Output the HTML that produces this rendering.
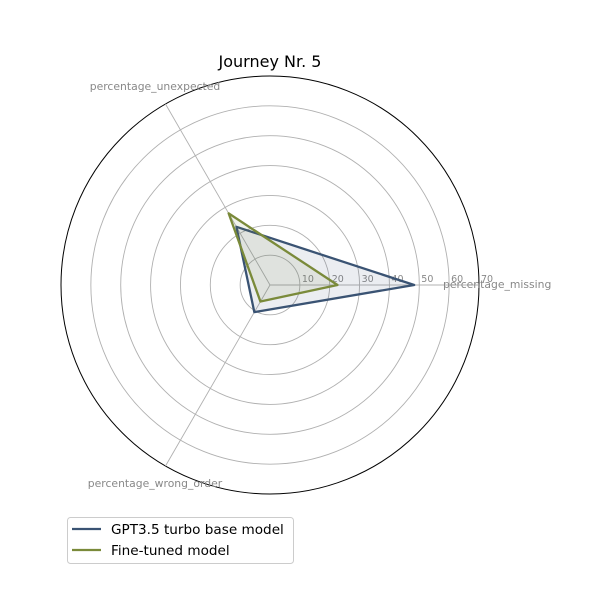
<!DOCTYPE html>
<html><head><meta charset="utf-8"><style>
body{margin:0;background:#fff;}
svg{display:block;font-family:"DejaVu Sans","Liberation Sans",sans-serif;}
</style></head><body>
<svg id="c" width="600" height="600">
<text x="270" y="67" text-anchor="middle" font-size="16">Journey Nr. 5</text>
<g id="grid"></g>
<g id="series"></g>
<g>
<rect x="67.5" y="517.5" width="226" height="46" rx="3" fill="#fff" stroke="#ccc"/>
<line x1="72" y1="529" x2="101" y2="529" stroke="#3a5373" stroke-width="2.2"/>
<text x="111" y="534" font-size="13.6">GPT3.5 turbo base model</text>
<line x1="72" y1="550" x2="101" y2="550" stroke="#7a8a3a" stroke-width="2.2"/>
<text x="111" y="555" font-size="13.6">Fine-tuned model</text>
</g>
</svg>
<script>
const categories=["percentage_missing","percentage_unexpected","percentage_wrong_order"];
const gptValues=[48.3,22.5,10.5];
const ftValues=[22.6,27.7,6.4];
const ringTicks=[10,20,30,40,50,60,70];
const rMax=70;
const cx=270,cy=285,R=209;
const NS="http://www.w3.org/2000/svg";
function rs(v){return v/rMax*R;}
function ang(i){return i*2*Math.PI/categories.length;}
function pt(i,v){return [cx+rs(v)*Math.cos(ang(i)),cy-rs(v)*Math.sin(ang(i))];}
function mk(tag,attrs,parent){const e=document.createElementNS(NS,tag);for(const k in attrs)e.setAttribute(k,attrs[k]);parent.appendChild(e);return e;}
const g=document.getElementById('grid');
ringTicks.forEach((t,k)=>{
  const c=mk('circle',{cx:cx,cy:cy,r:rs(t),fill:'none',stroke:(t===rMax?'#000':'#b0b0b0'),'stroke-width':(t===rMax?1:0.9)},g);
  
  
  const tx=mk('text',{x:cx+rs(t)+2,y:cy-3,'font-size':9.5,fill:'#888'},g);
  tx.textContent=t;
  
  
});
categories.forEach((c,i)=>{
  const p=pt(i,rMax);
  const l=mk('line',{x1:cx,y1:cy,x2:p[0],y2:p[1],stroke:'#b0b0b0','stroke-width':0.9},g);
  
  
  let x,y,anchor='middle';
  if(i===0){x=443;y=cy+3;anchor='start';}
  else if(i===1){x=155;y=90;}
  else {x=155;y=487;}
  const tx=mk('text',{x:x,y:y,'font-size':10.8,fill:'#888','text-anchor':anchor},g);
  tx.textContent=c;
  
  
});
const s=document.getElementById('series');
function draw(vals,color,name){
  const pts=vals.map((v,i)=>pt(i,v).join(',')).join(' ');
  const f=mk('polygon',{points:pts,fill:color,'fill-opacity':0.1,stroke:'none'},s);
  
  
  const p=mk('polygon',{points:pts,fill:'none',stroke:color,'stroke-width':2.3,'stroke-linejoin':'round'},s);
  
  
}
draw(gptValues,'#3a5373','gpt-series');
draw(ftValues,'#7a8a3a','finetuned-series');
</script>
</body></html>
